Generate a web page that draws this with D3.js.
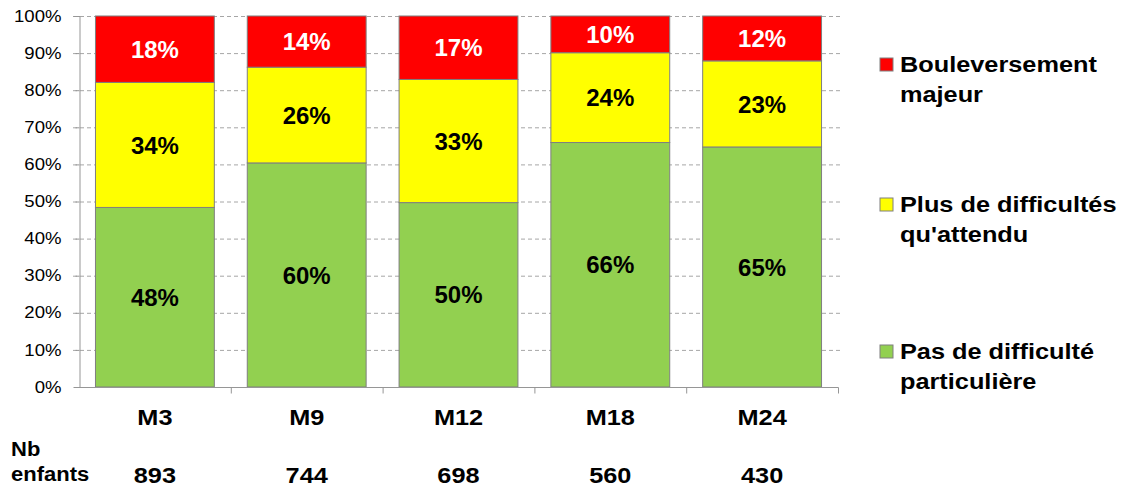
<!DOCTYPE html>
<html>
<head>
<meta charset="utf-8">
<script src="https://cdn.jsdelivr.net/npm/d3@7"></script>
<style>
  body { margin: 0; background: #fff; }
  svg { font-family: "Liberation Sans", Arial, sans-serif; }
</style>
</head>
<body>
<div id="chart"></div>
<script>
// data (percent of children)
var categories = ["M3", "M9", "M12", "M18", "M24"];
var nbEnfants = [893, 744, 698, 560, 430];
var pasDeDifficulte = [48.4, 60.4, 49.7, 65.9, 64.7];
var plusDeDifficultes = [33.7, 25.8, 33.2, 24.2, 23.2];
var bouleversement = [17.9, 13.8, 17.1, 9.9, 12.1];
var yTicks = [0, 10, 20, 30, 40, 50, 60, 70, 80, 90, 100];

var seriesKeys = ["pas", "plus", "boul"];
var seriesNames = {
  pas: ["Pas de difficulté", "particulière"],
  plus: ["Plus de difficultés", "qu'attendu"],
  boul: ["Bouleversement", "majeur"]
};
var colors = { pas: "#92d050", plus: "#ffff00", boul: "#ff0000" };
var labelColors = { pas: "#000", plus: "#000", boul: "#fff" };

var width = 1137,
    height = 492;
var margin = {top: 16, left: 79, right: 299, bottom: 105};

// the original picture has its text a bit wider than normal Arial
function widen(sel, s) {
  sel.each(function() {
    var len = this.getComputedTextLength();
    d3.select(this)
      .attr("textLength", len * s)
      .attr("lengthAdjust", "spacingAndGlyphs");
  });
}

var rows = categories.map(function(c, i) {
  return { cat: c, pas: pasDeDifficulte[i], plus: plusDeDifficultes[i], boul: bouleversement[i] };
});

var svg = d3.select("#chart").append("svg")
    .attr("width", width)
    .attr("height", height);

var x = d3.scaleBand()
    .domain(categories)
    .range([margin.left, width - margin.right])
    .paddingInner(0.217)
    .paddingOuter(0.1085);

var y = d3.scaleLinear()
    .domain([0, 100])
    .range([height - margin.bottom, margin.top]);

var xStart = margin.left, xEnd = width - margin.right;

// dashed gridlines
svg.append("g")
  .selectAll("line")
  .data(yTicks.filter(function(d) { return d > 0; }))
  .enter().append("line")
    .attr("x1", xStart - 6)
    .attr("x2", xEnd + 2)
    .attr("y1", function(d) { return y(d) + 0.5; })
    .attr("y2", function(d) { return y(d) + 0.5; })
    .attr("stroke", "#a6a6a6")
    .attr("stroke-dasharray", "4,3");

var yAxis = d3.axisLeft(y)
    .tickValues(yTicks)
    .tickFormat(function(d) { return d + "%"; })
    .tickSize(6)
    .tickPadding(12);

var gy = svg.append("g")
    .attr("transform", "translate(" + (xStart + 0.5) + ",0)")
    .call(yAxis);
gy.select(".domain").attr("stroke", "#969696");
gy.selectAll(".tick line").attr("stroke", "#969696").attr("stroke-dasharray", "4,3");
gy.selectAll(".tick text")
    .attr("font-size", 16)
    .attr("fill", "#000")
    .attr("font-family", "Liberation Sans, Arial, sans-serif")
    .call(widen, 1.16);

// bars
var stack = d3.stack().keys(seriesKeys);
var layers = stack(rows);

var gLayers = svg.selectAll("g.layer")
  .data(layers)
  .enter().append("g")
    .attr("class", "layer");

gLayers.selectAll("rect")
  .data(function(layer) { return layer.map(function(d) { return {key: layer.key, d: d}; }); })
  .enter().append("rect")
    .attr("x", function(o) { return x(o.d.data.cat); })
    .attr("width", x.bandwidth())
    .attr("y", function(o) { return y(o.d[1]); })
    .attr("height", function(o) { return y(o.d[0]) - y(o.d[1]); })
    .attr("fill", function(o) { return colors[o.key]; })
    .attr("stroke", "#7f7f7f")
    .attr("stroke-width", 1);

gLayers.selectAll("text")
  .data(function(layer) { return layer.map(function(d) { return {key: layer.key, d: d}; }); })
  .enter().append("text")
    .attr("x", function(o) { return x(o.d.data.cat) + x.bandwidth() / 2; })
    .attr("y", function(o) { return (y(o.d[0]) + y(o.d[1])) / 2; })
    .attr("dy", "0.36em")
    .attr("text-anchor", "middle")
    .attr("font-size", 24)
    .attr("font-weight", "bold")
    .attr("fill", function(o) { return labelColors[o.key]; })
    .text(function(o) { return Math.round(o.d[1] - o.d[0]) + "%"; });

// x axis
var xAxis = d3.axisBottom(x).tickSize(0).tickPadding(22);
var gx = svg.append("g")
    .attr("transform", "translate(0," + (y(0) + 0.5) + ")")
    .call(xAxis);
gx.select(".domain").remove();
gx.append("line")
    .attr("x1", xStart).attr("x2", xEnd + 0.5)
    .attr("stroke", "#969696");
gx.selectAll("line.sep")
  .data(categories)
  .enter().append("line")
    .attr("class", "sep")
    .attr("x1", function(d) { return x(d) - x.step() * x.paddingOuter() + x.step() + 0.5; })
    .attr("x2", function(d) { return x(d) - x.step() * x.paddingOuter() + x.step() + 0.5; })
    .attr("y1", 0).attr("y2", 6)
    .attr("stroke", "#969696");
gx.selectAll(".tick text")
    .attr("font-size", 22)
    .attr("font-weight", "bold")
    .attr("fill", "#000")
    .attr("font-family", "Liberation Sans, Arial, sans-serif")
    .call(widen, 1.15);

// Nb enfants row
svg.append("text")
    .attr("x", 11).attr("y", 456)
    .attr("font-size", 20).attr("font-weight", "bold")
    .text("Nb")
    .call(widen, 1.1);
svg.append("text")
    .attr("x", 11).attr("y", 481)
    .attr("font-size", 20).attr("font-weight", "bold")
    .text("enfants")
    .call(widen, 1.1);
svg.selectAll("text.nb")
  .data(categories)
  .enter().append("text")
    .attr("class", "nb")
    .attr("x", function(d) { return x(d) + x.bandwidth() / 2; })
    .attr("y", 483)
    .attr("text-anchor", "middle")
    .attr("font-size", 22).attr("font-weight", "bold")
    .text(function(d, i) { return nbEnfants[i]; })
    .call(widen, 1.15);

// legend
var legendKeys = ["boul", "plus", "pas"];
var legendTop = [58, 198, 345];
var legend = svg.selectAll("g.legend")
  .data(legendKeys)
  .enter().append("g")
    .attr("class", "legend")
    .attr("transform", function(d, i) { return "translate(880," + legendTop[i] + ")"; });

legend.append("rect")
    .attr("width", 13).attr("height", 13)
    .attr("fill", function(d) { return colors[d]; })
    .attr("stroke", "#7f7f7f");

legend.each(function(d) {
  var g = d3.select(this);
  seriesNames[d].forEach(function(line, j) {
    g.append("text")
      .attr("x", 20)
      .attr("y", 14 + j * 30)
      .attr("font-size", 22)
      .attr("font-weight", "bold")
      .text(line)
      .call(widen, 1.15);
  });
});
</script>
</body>
</html>
